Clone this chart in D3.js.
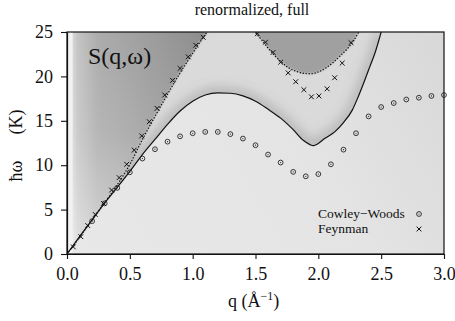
<!DOCTYPE html>
<html>
<head>
<meta charset="utf-8">
<script src="https://cdn.jsdelivr.net/npm/d3@7"></script>
<style>
  body { margin: 0; background: #fff; }
  svg text { font-family: "Liberation Serif", "Tinos", "Times New Roman", "DejaVu Serif", serif !important; fill: #111; }
</style>
</head>
<body>
<svg id="chart" width="455" height="321"></svg>
<script>
// ---- data ----
var qTicks = [0, 0.5, 1.0, 1.5, 2.0, 2.5, 3.0];
var wTicks = [0, 5, 10, 15, 20, 25];

// solid curve (renormalized dispersion)
var solidQ = [0, 0.1, 0.2, 0.3, 0.4, 0.5, 0.6, 0.7, 0.8, 0.9, 1.0, 1.1, 1.2, 1.3, 1.4, 1.5, 1.6, 1.7, 1.8, 1.88, 1.93, 1.96, 2.0, 2.05, 2.13, 2.2, 2.27, 2.32, 2.37, 2.41, 2.45, 2.5];
var solidW = [0, 1.95, 3.85, 5.75, 7.5, 9.3, 11.2, 12.9, 14.6, 16.1, 17.2, 17.9, 18.15, 18.1, 17.8, 17.2, 16.3, 15.3, 14.0, 12.8, 12.35, 12.2, 12.45, 13.0, 13.75, 14.8, 16.2, 17.8, 19.6, 21.1, 22.6, 25];

// dotted curve, two branches (edge of the dark regions)
var dotLeftQ = [0, 0.1, 0.2, 0.3, 0.4, 0.5, 0.6, 0.7, 0.8, 0.9, 1.0, 1.06, 1.12];
var dotLeftW = [0, 1.9, 3.85, 5.8, 7.8, 10.1, 12.9, 15.5, 18.0, 20.4, 22.6, 23.9, 25.1];
var dotMidQ = [1.49, 1.55, 1.6, 1.65, 1.7, 1.76, 1.82, 1.88, 1.94, 2.0, 2.06, 2.12, 2.18, 2.23, 2.28, 2.325];
var dotMidW = [25.1, 24.1, 23.2, 22.4, 21.7, 21.0, 20.6, 20.35, 20.3, 20.5, 20.95, 21.6, 22.4, 23.1, 24.0, 25.1];

// Cowley-Woods points
var cwQ = [0.2, 0.3, 0.4, 0.5, 0.6, 0.7, 0.8, 0.9, 1.0, 1.1, 1.2, 1.3, 1.4, 1.5, 1.6, 1.7, 1.8, 1.9, 2.0, 2.1, 2.2, 2.3, 2.4, 2.5, 2.6, 2.7, 2.8, 2.9, 3.0];
var cwW = [3.7, 5.7, 7.45, 9.2, 10.75, 11.8, 12.65, 13.25, 13.6, 13.75, 13.75, 13.5, 13.0, 12.25, 11.2, 10.3, 9.25, 8.75, 9.0, 10.1, 11.75, 13.6, 15.5, 16.55, 17.0, 17.4, 17.6, 17.8, 17.9];

// Feynman points
var feynQ = [0.05, 0.11, 0.165, 0.225, 0.29, 0.355, 0.415, 0.475, 0.535, 0.595, 0.655, 0.717, 0.778, 0.84, 0.9, 0.965, 1.025, 1.084,
             1.515, 1.58, 1.64, 1.7, 1.76, 1.82, 1.885, 1.945, 2.005, 2.07, 2.13, 2.19, 2.26];
var feynW = [0.8, 1.95, 3.2, 4.45, 5.7, 7.2, 8.6, 10.1, 11.7, 13.3, 14.9, 16.4, 17.9, 19.55, 20.9, 22.2, 23.5, 24.4,
             24.8, 23.85, 22.7, 21.6, 20.4, 19.4, 18.5, 17.7, 17.8, 18.6, 19.85, 21.5, 23.8];

var legendLabels = ["Cowley\u2212Woods", "Feynman"];

// ---- layout ----
var margin = { top: 32, right: 11, bottom: 67, left: 67 },
  width = 455 - margin.left - margin.right,
  height = 321 - margin.top - margin.bottom;

var svg = d3.select("#chart");
var defs = svg.append("defs");

var g = svg.append("g")
  .attr("transform", "translate(" + margin.left + "," + margin.top + ")");

var x = d3.scaleLinear().domain([0, 3]).range([0, width]);
var y = d3.scaleLinear().domain([0, 25]).range([height, 0]);

var zip = function (qs, ws) { return qs.map(function (q, i) { return [q, ws[i]]; }); };
var solid = zip(solidQ, solidW);
var dotLeft = zip(dotLeftQ, dotLeftW);
var dotMid = zip(dotMidQ, dotMidW);

var line = d3.line().x(d => x(d[0])).y(d => y(d[1])).curve(d3.curveMonotoneX);
var areaAbove = d3.area().x(d => x(d[0])).y0(y(26)).y1(d => y(d[1])).curve(d3.curveMonotoneX);

// clip + filters
defs.append("clipPath").attr("id", "plotClip")
  .append("rect").attr("width", width).attr("height", height);
defs.append("clipPath").attr("id", "aboveSolid")
  .append("path").attr("d", areaAbove(solid));
defs.append("clipPath").attr("id", "leftClip")
  .append("path").attr("d", areaAbove(dotLeft));
[["blur1", 1], ["blur6", 6]].forEach(function (f) {
  defs.append("filter").attr("id", f[0]).attr("x", "-20%").attr("y", "-20%").attr("width", "140%").attr("height", "140%")
    .append("feGaussianBlur").attr("stdDeviation", f[1]);
});

var baseGrad = defs.append("linearGradient").attr("id", "baseGrad")
  .attr("gradientUnits", "userSpaceOnUse")
  .attr("x1", 0).attr("y1", height).attr("x2", width).attr("y2", 0);
baseGrad.append("stop").attr("offset", 0).attr("stop-color", "#e8e8e8");
baseGrad.append("stop").attr("offset", 0.6).attr("stop-color", "#e4e4e4");
baseGrad.append("stop").attr("offset", 1).attr("stop-color", "#d8d8d8");

var leftGrad = defs.append("linearGradient").attr("id", "leftGrad")
  .attr("gradientUnits", "userSpaceOnUse")
  .attr("x1", x(0.03)).attr("y1", 0).attr("x2", x(1.12)).attr("y2", 0);
leftGrad.append("stop").attr("offset", 0).attr("stop-color", "#dedede");
leftGrad.append("stop").attr("offset", 0.05).attr("stop-color", "#c4c4c4");
leftGrad.append("stop").attr("offset", 0.2).attr("stop-color", "#acacac");
leftGrad.append("stop").attr("offset", 0.6).attr("stop-color", "#9c9c9c");
leftGrad.append("stop").attr("offset", 1).attr("stop-color", "#8c8c8c");

// vertical fade: lower part of the left region is lighter
var fadeGrad = defs.append("linearGradient").attr("id", "fadeGrad")
  .attr("gradientUnits", "userSpaceOnUse")
  .attr("x1", 0).attr("y1", y(25)).attr("x2", 0).attr("y2", y(0));
fadeGrad.append("stop").attr("offset", 0).attr("stop-color", "#fff").attr("stop-opacity", 0);
fadeGrad.append("stop").attr("offset", 0.45).attr("stop-color", "#fff").attr("stop-opacity", 0.12);
fadeGrad.append("stop").attr("offset", 1).attr("stop-color", "#fff").attr("stop-opacity", 0.5);

// ---- background intensity map ----
var bg = g.append("g").attr("clip-path", "url(#plotClip)");

bg.append("rect").attr("width", width).attr("height", height).attr("fill", "url(#baseGrad)");

// slightly darker band above the solid curve
bg.append("path").attr("d", areaAbove(solid)).attr("fill", "#dadada");

// shadow hugging the upper side of the solid curve
bg.append("g").attr("clip-path", "url(#aboveSolid)")
  .append("path").attr("d", line(solid))
  .attr("fill", "none").attr("stroke", "#666").attr("stroke-opacity", 0.35)
  .attr("stroke-width", 10).attr("filter", "url(#blur6)");

// dark regions above the dotted curve
bg.append("path").attr("d", areaAbove(dotLeft)).attr("fill", "url(#leftGrad)").attr("filter", "url(#blur1)");
bg.append("g").attr("clip-path", "url(#leftClip)")
  .append("rect").attr("width", width).attr("height", height).attr("fill", "url(#fadeGrad)");
bg.append("path").attr("d", areaAbove(dotMid)).attr("fill", "#a0a0a0").attr("filter", "url(#blur1)");

// pale strip along q = 0
bg.append("rect").attr("x", 0).attr("width", x(0.045)).attr("height", height).attr("fill", "#f2f2f2");

// ---- curves ----
g.append("path").attr("d", line(solid))
  .attr("fill", "none").attr("stroke", "#111").attr("stroke-width", 1.2)
  .attr("clip-path", "url(#plotClip)");

[dotLeft, dotMid].forEach(function (d) {
  g.append("path").attr("d", line(d))
    .attr("fill", "none").attr("stroke", "#111").attr("stroke-width", 1.4)
    .attr("stroke-dasharray", "0.1,2.9").attr("stroke-linecap", "round")
    .attr("clip-path", "url(#plotClip)");
});

// ---- points ----
function circleMark(sel) {
  sel.append("circle").attr("r", 2.4).attr("fill", "none").attr("stroke", "#222").attr("stroke-width", 0.9);
  sel.append("circle").attr("r", 0.6).attr("fill", "#222");
}
function crossMark(sel) {
  sel.append("path").attr("d", "M-2.4,-2.4L2.4,2.4M-2.4,2.4L2.4,-2.4")
    .attr("stroke", "#111").attr("stroke-width", 1);
}

g.append("g").selectAll("g")
  .data(zip(cwQ, cwW))
  .enter().append("g")
  .attr("transform", d => "translate(" + x(d[0]) + "," + y(d[1]) + ")")
  .call(circleMark);

g.append("g").attr("clip-path", "url(#plotClip)").selectAll("g")
  .data(zip(feynQ, feynW))
  .enter().append("g")
  .attr("transform", d => "translate(" + x(d[0]) + "," + y(d[1]) + ")")
  .call(crossMark);

// ---- frame and axes ----
g.append("rect").attr("width", width).attr("height", height)
  .attr("fill", "none").attr("stroke", "#111").attr("stroke-width", 1.2);

var xAxis = g.append("g")
  .attr("transform", "translate(0," + height + ")")
  .call(d3.axisBottom(x).tickValues(qTicks).tickFormat(d3.format(".1f")).tickSize(5).tickPadding(8).tickSizeOuter(0));
var yAxis = g.append("g")
  .call(d3.axisLeft(y).tickValues(wTicks).tickSize(6).tickPadding(8).tickSizeOuter(0));

[xAxis, yAxis].forEach(function (a) {
  a.attr("font-family", null).attr("font-size", null);
  a.select(".domain").attr("stroke", "#111").attr("stroke-width", 1.2);
  a.selectAll(".tick line").attr("stroke", "#111").attr("stroke-width", 1.1);
  a.selectAll("text").style("font-size", "18px").attr("fill", "#111");
});

// ---- labels ----
svg.append("text")
  .attr("x", 252).attr("y", 15)
  .attr("text-anchor", "middle").style("font-size", "16px")
  .text("renormalized, full");

g.append("text")
  .attr("x", 21).attr("y", 32)
  .style("font-size", "24px")
  .text("S(q,\u03c9)");

var xl = svg.append("text")
  .attr("x", 228).attr("y", 307)
  .style("font-size", "18px");
xl.append("tspan").text("q  (\u00c5");
xl.append("tspan").attr("dy", -7).style("font-size", "12px").text("\u22121");
xl.append("tspan").attr("dy", 7).text(")");

svg.append("text")
  .attr("transform", "translate(22,171) rotate(-90)")
  .attr("text-anchor", "middle").style("font-size", "18px")
  .text("\u0127\u03c9");
svg.append("text")
  .attr("transform", "translate(22,122) rotate(-90)")
  .attr("text-anchor", "middle").style("font-size", "18px")
  .text("(K)");

// ---- legend ----
var legend = g.append("g");
legendLabels.forEach(function (lab, i) {
  var ly = 184 + i * 15;
  legend.append("text")
    .attr("x", 251).attr("y", ly + 2)
    .style("font-size", "13.5px")
    .text(lab);
  var mk = legend.append("g").attr("transform", "translate(352," + (ly - 2) + ")");
  if (i === 0) circleMark(mk); else crossMark(mk);
});
</script>
</body>
</html>
